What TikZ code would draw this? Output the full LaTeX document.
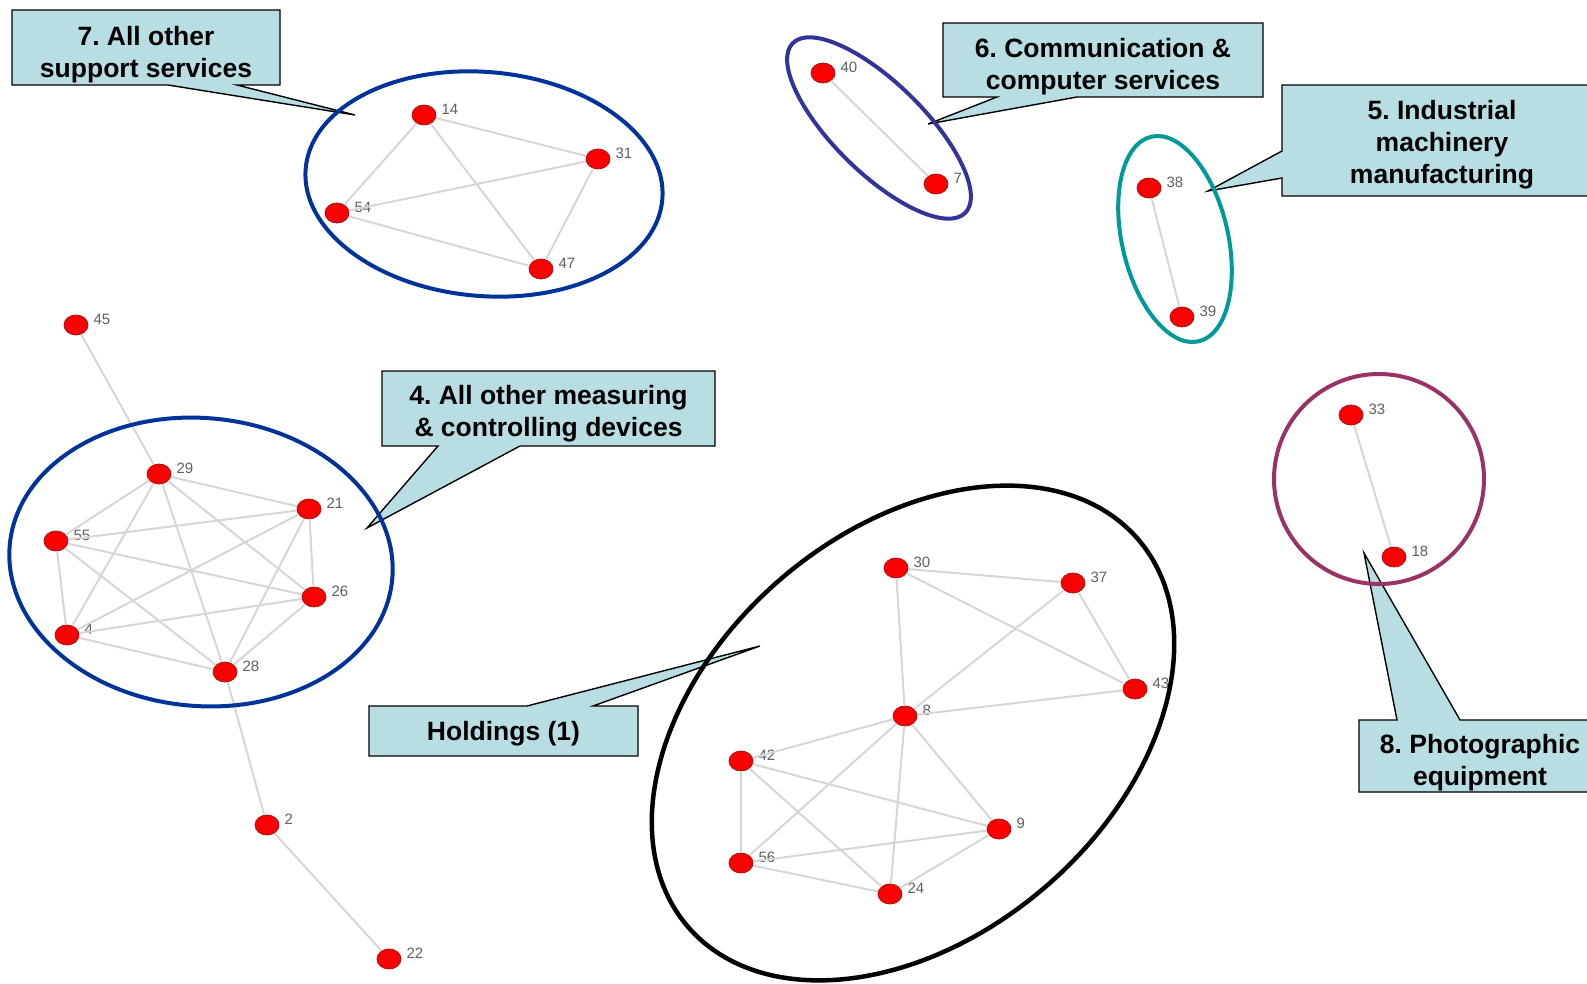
\documentclass[tikz,border=0pt]{standalone}
\usepackage{fontspec}
\setmainfont{Liberation Sans}
\usetikzlibrary{shapes.geometric}
\frenchspacing

\definecolor{calloutfill}{RGB}{184,222,227}
\definecolor{nodered}{RGB}{250,0,0}
\definecolor{noderim}{RGB}{165,20,20}
\definecolor{lblgray}{RGB}{95,95,95}
\definecolor{linkgray}{RGB}{214,214,214}
\definecolor{clusterblue}{RGB}{0,51,153}
\definecolor{clusterindigo}{RGB}{51,51,153}
\definecolor{clusterteal}{RGB}{0,153,153}
\definecolor{clustermaroon}{RGB}{153,51,102}

\newcommand\vx[3]{\node[vtx, label={[vlbl]right:#1}] (n#1) at (#2,#3) {};}

\begin{document}
\begin{tikzpicture}[x=1pt,y=-1pt,
  vtx/.style={ellipse, minimum width=24pt, minimum height=20pt, inner sep=0pt,
              fill=nodered, draw=noderim, line width=0.8pt},
  vlbl/.style={font=\fontsize{15}{15}\selectfont, text=lblgray, inner sep=0pt,
               xshift=5pt, yshift=6pt},
  link/.style={draw=linkgray, line width=2pt},
  callout/.style={fill=calloutfill, draw=black, line width=1.4pt, line join=miter},
  ctext/.style={align=center, inner sep=0pt,
                font=\frenchspacing\bfseries\fontsize{26.5}{32}\selectfont},
  cluster/.style={line width=4pt}
]
\useasboundingbox (0,0) rectangle (1587,983);
\clip (0,0) rectangle (1587,983);

% ---- callout shapes ----
\coordinate (tip7) at (355,115);
\coordinate (tip6) at (928,124);
\coordinate (tip5) at (1208,191);
\coordinate (tip4) at (367,528);
\coordinate (tip1) at (760,646);
\coordinate (tip8) at (1364,553);

\draw[callout] (12,10) -- (280,10) -- (280,85) -- (237,85) -- (tip7)
  -- (168,85) -- (12,85) -- cycle;
\draw[callout] (943,23) -- (1263,23) -- (1263,97) -- (1077,97) -- (tip6)
  -- (997,97) -- (943,97) -- cycle;
\draw[callout] (1282,85) -- (1600,85) -- (1600,196) -- (1282,196) -- (1282,178)
  -- (tip5) -- (1282,151) -- cycle;
\draw[callout] (382,371) -- (715,371) -- (715,446) -- (520,446) -- (tip4)
  -- (438,446) -- (382,446) -- cycle;
\draw[callout] (369,706) -- (527,706) -- (tip1) -- (593,706) -- (638,706)
  -- (638,756) -- (369,756) -- cycle;
\draw[callout] (1359,720) -- (1397,720) -- (tip8) -- (1460,720) -- (1600,720)
  -- (1600,792) -- (1359,792) -- cycle;

\node[ctext] (c7) at (146,54.5) {7. All other\\support services};
\node[ctext] (c6) at (1103,66.5) {6. Communication \&\\computer services};
\node[ctext] (c5) at (1442,145) {5. Industrial\\machinery\\manufacturing};
\node[ctext] (c4) at (548.5,414) {4. All other measuring\\\& controlling devices};
\node[ctext] (c1) at (503.5,734) {Holdings (1)};
\node[ctext] (c8) at (1480,762.5) {8. Photographic\\equipment};

% ---- vertices ----
\vx{45}{76}{325}
\vx{29}{159}{474}
\vx{21}{309}{509}
\vx{55}{56}{541}
\vx{26}{314}{597}
\vx{4}{67}{635}
\vx{28}{225}{672}
\vx{2}{267}{825}
\vx{22}{389}{959}
\vx{14}{424}{115}
\vx{31}{598}{159}
\vx{54}{337}{213}
\vx{47}{541}{269}
\vx{40}{823}{73}
\vx{7}{936}{184}
\vx{38}{1149}{188}
\vx{39}{1182}{317}
\vx{33}{1351}{415}
\vx{18}{1394}{557}
\vx{30}{896}{568}
\vx{37}{1073}{583}
\vx{43}{1135}{689}
\vx{8}{905}{716}
\vx{42}{741}{761}
\vx{9}{999}{829}
\vx{56}{741}{863}
\vx{24}{890}{894}

% ---- links ----
\foreach \a/\b in {29/21,29/55,29/26,29/4,29/28,21/55,21/26,21/4,21/28,
                   55/26,55/4,55/28,26/4,26/28,4/28,45/29,28/2,2/22,
                   14/31,14/54,14/47,54/31,54/47,31/47,
                   40/7,38/39,33/18,
                   30/37,30/43,30/8,37/8,37/43,8/43,8/42,8/56,8/9,8/24,
                   42/56,42/9,42/24,56/9,56/24,9/24}
  \draw[link] (n\a) -- (n\b);

% ---- cluster outlines ----
\draw[cluster, draw=clusterblue, rotate around={-5:(484,184)}]
  (484,184) ellipse [x radius=179, y radius=112];
\draw[cluster, draw=clusterblue, rotate around={-5:(201,562)}]
  (201,562) ellipse [x radius=192, y radius=144];
\draw[cluster, draw=clusterindigo, rotate around={-44.5:(879,128)}]
  (879,128) ellipse [x radius=121, y radius=45];
\draw[cluster, draw=clusterteal, rotate around={13:(1175,239)}]
  (1175,239) ellipse [x radius=53, y radius=105];
\draw[cluster, draw=clustermaroon] (1379,479) circle [radius=105];
\draw[cluster, draw=black, line width=4.5pt, rotate around={40.7:(913,733)}]
  (913,733) ellipse [x radius=297, y radius=203];
\end{tikzpicture}
\end{document}
